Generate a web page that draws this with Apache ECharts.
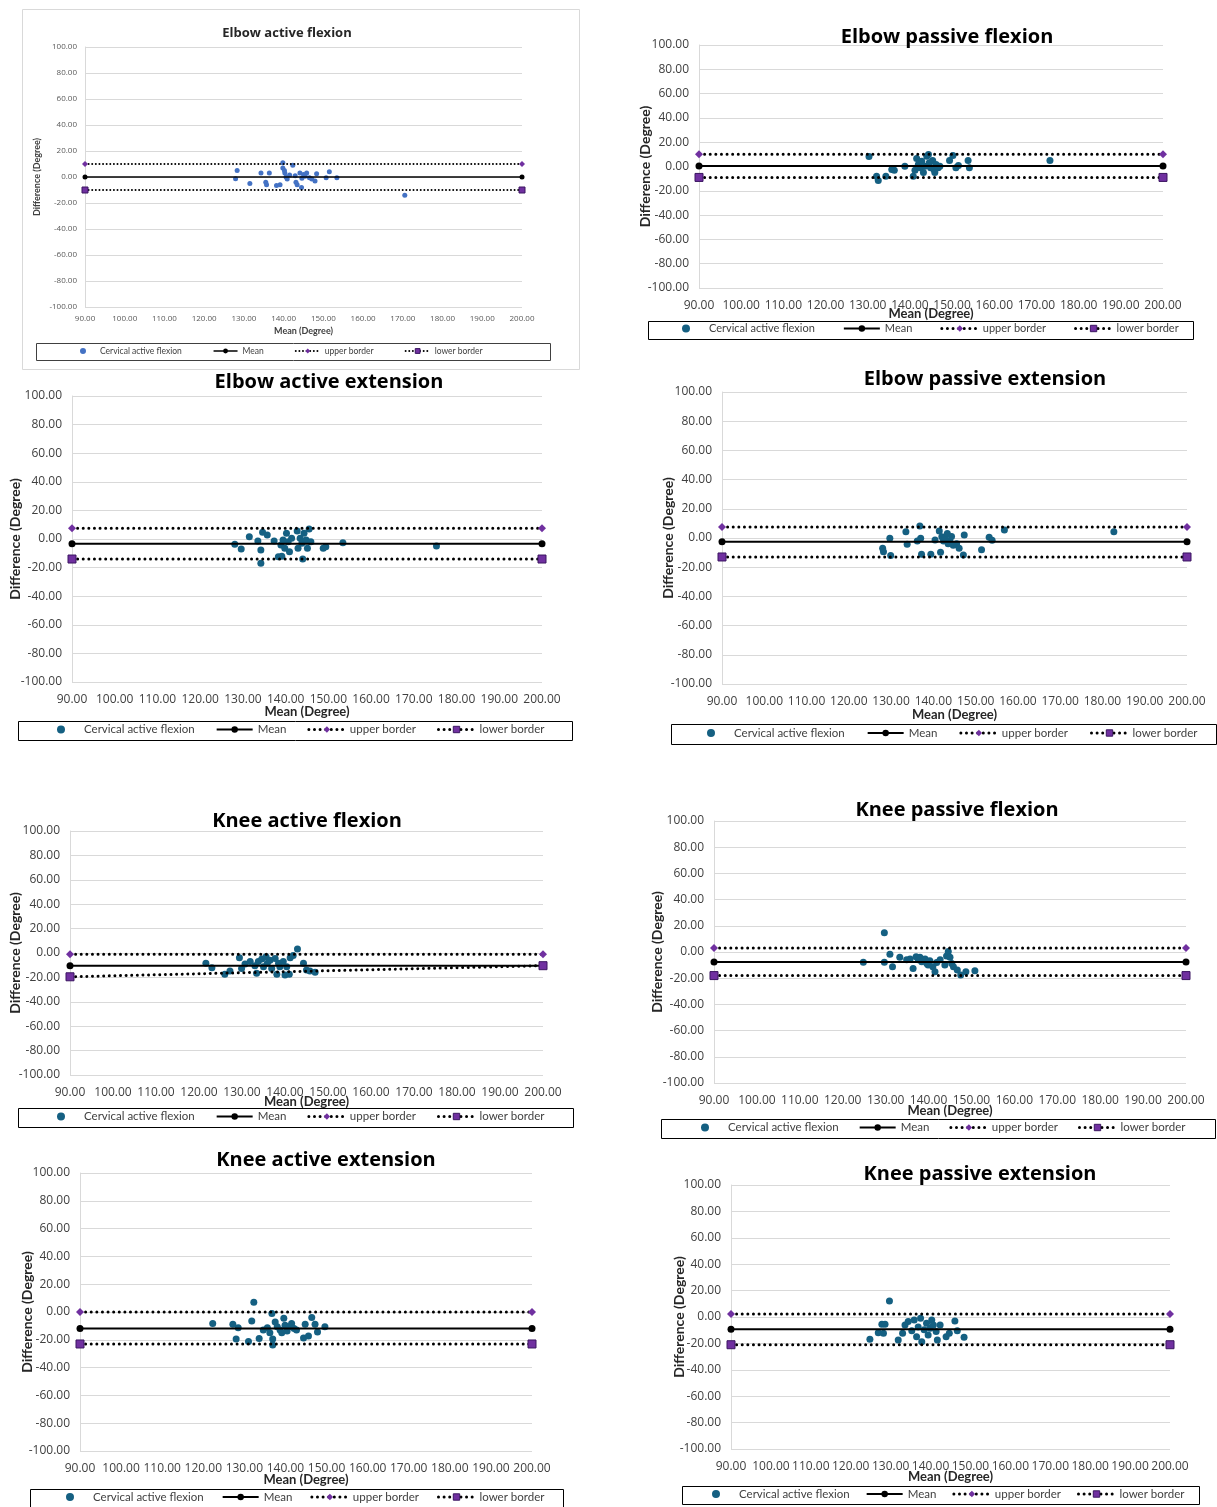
<!DOCTYPE html>
<html><head><meta charset="utf-8">
<script src="https://cdn.jsdelivr.net/npm/echarts@6/dist/echarts.min.js"></script>
<style>html,body{margin:0;padding:0;background:#fff}#c{width:1217px;height:1507px}</style>
</head><body><div id="c"></div>
<script>
// ---------- data ----------
const xRange = [90, 200], xStep = 10;
const yRange = [-100, 100], yStep = 20;
const seriesNames = ['Cervical active flexion', 'Mean', 'upper border', 'lower border'];
const xAxisTitle = 'Mean (Degree)';
const yAxisTitle = 'Difference (Degree)';
const panelTitles = ['Elbow active flexion', 'Elbow passive flexion', 'Elbow active extension', 'Elbow passive extension',
  'Knee active flexion', 'Knee passive flexion', 'Knee active extension', 'Knee passive extension'];

const eafPoints = [[128.3,5],[127.9,-1.4],[131.5,-5],[134.3,3],[135.5,-4],[135.7,-6],[136.4,3],[138.2,-6.5],[139.1,-6],[139.8,11],[139.8,7],[140.3,3],[140.6,0],[140.9,-1.5],[142.3,9],[142.9,1],[143.1,-4],[143.4,-6],[144.1,3],[144.5,-8],[145,2],[145.4,0.6],[145.8,3],[146.5,-0.6],[147.1,-1.5],[147.9,-3],[148.3,2.5],[150.7,-0.6],[151.5,4],[153.4,-0.5],[170.5,-14],[140.2,5],[141.5,1.5],[144.6,-1]];
const epfPoints = [[130.3,8.2],[132.1,-8],[132.5,-11.5],[134.3,-8],[135.7,-2.5],[136.3,-3],[138.8,0.3],[140.8,-8],[141.2,-3],[141.6,6.6],[142,1.6],[142.4,-1],[142.8,4.4],[143.2,-5],[143.6,0.3],[144,8.5],[144.4,9.9],[144.6,3],[144.9,-1],[145.4,5],[145.7,-2.5],[146.2,1.6],[146.7,-1],[147.1,0.3],[145.9,-5],[149.4,5],[150.2,9],[150.9,-1],[151.5,0.8],[153.8,5],[154.1,-1],[173.2,5]];
const eaePoints = [[128.1,-3.7],[129.6,-7],[131.5,1.6],[133.5,-1.4],[134.2,-7.7],[134.2,-17],[134.6,4.7],[135.7,2.8],[137.3,-1.4],[138.3,-12.4],[138.9,-4.2],[139.1,-12],[139.4,-0.7],[139.8,-6.5],[140.2,4],[140.6,-2],[140.9,-8.9],[141.4,0.5],[142.7,5.6],[142.9,-6.5],[143.4,0.5],[143.8,-3],[144,-14],[144.3,4],[144.8,-0.7],[145.1,-6.5],[145.5,7],[145.9,-2],[148.8,-6.5],[149.4,-5.5],[153.4,-2.6],[175.3,-4.9]];
const epePoints = [[128,-7],[128.2,-9.4],[129.7,-0.2],[129.9,-12],[133.5,4.3],[133.8,-4.3],[136.2,-2],[136.8,8.2],[137,-0.2],[137.2,-11.2],[139.4,-11.2],[140.4,-1.4],[141.4,4.8],[141.7,-9.8],[142,0.9],[142.4,-2],[142.8,0],[143.3,3],[143.5,-4],[143.9,-2],[144.3,1],[144.7,-5],[145.5,-4],[146.1,-7],[147.1,-11.6],[147.3,2],[151.4,-8],[153.2,0.5],[153.9,-1.5],[156.8,5.5],[182.7,4.3]];
const kafPoints = [[121.6,-8.5],[123,-12],[126,-17.5],[127.2,-14.8],[129.4,-3.8],[129.9,-12.7],[130.7,-9],[131.9,-7],[133,-10.4],[133.4,-16.7],[133.8,-7],[134.6,-5],[135,-11.3],[135.6,-3],[135.9,-8.5],[136.5,-6],[136.9,-12.7],[137.7,-4.6],[138.1,-17.5],[138.5,-8.5],[138.8,-11.3],[139.6,-7],[140,-18],[140.4,-11.3],[141,-17.5],[141.2,-3.8],[141.9,-2],[142.9,3.3],[144.3,-8.5],[145,-14],[145.8,-14.8],[147,-15.8]];
const kpfPoints = [[124.8,-7.9],[129.7,14.7],[129.7,-7.9],[131,-1.8],[131.6,-11.2],[133.3,-4.1],[134.9,-6],[135.7,-5.4],[136.4,-12.5],[137.1,-3.6],[137.6,-6],[138,-4.1],[138.4,-7.4],[139.2,-5.4],[139.6,-8.7],[139.9,-10],[140.3,-6.6],[141,-11.2],[141.5,-15],[141.9,-8],[142.7,-6],[143.8,-10],[144.2,-3],[144.6,0.3],[145,-4.1],[145.4,-8.7],[145.8,-11.2],[146.7,-13.7],[147.5,-17.6],[148.7,-15],[150.8,-14.3]];
const kaePoints = [[122.3,-8.2],[127.2,-8.9],[128,-19.4],[128.5,-11.3],[131,-21.3],[131.8,-6.5],[132.3,7],[133.6,-19],[134.6,-13],[135.6,-11.3],[136.2,-15],[136.7,-1],[136.9,-19.4],[136.9,-23.7],[137.5,-7.2],[138,-10.7],[138.7,-13],[139.1,-15],[139.6,-4.5],[139.9,-9.6],[140.4,-13.7],[140.9,-10.7],[141.5,-8.2],[142.1,-11.8],[142.7,-13],[144.4,-18.7],[144.8,-8.9],[145.6,-17.3],[146.4,-4],[147.2,-8.9],[147.8,-14.4],[149.6,-10.7]];
const kpePoints = [[124.8,-16.9],[126.9,-11.9],[127.8,-5.5],[128.6,-5.5],[128.2,-12.4],[129.7,12.1],[131.9,-17.4],[133,-12.4],[133.6,-6],[134.4,-3.5],[135.3,-10.4],[135.9,-2.3],[136.5,-15],[136.9,-7.5],[137.5,-1],[137.8,-18.7],[138.4,-9.6],[139,-4.8],[139.4,-13.6],[139.9,-8.6],[140.3,-2.3],[140.7,-6],[141.4,-11],[141.7,-17.4],[142.4,-6],[143.9,-15],[144.7,-12.4],[146.1,-3],[146.7,-10.4],[148.4,-15.4]];

// limit lines: [value at x=90, value at x=200]
const eafMean = [0, 0],       eafUpper = [10, 10],   eafLower = [-10, -10];
const epfMean = [0.5, 0.5],   epfUpper = [10, 10],   epfLower = [-9, -9];
const eaeMean = [-3.3, -3.3], eaeUpper = [7.5, 7.5], eaeLower = [-14, -14];
const epeMean = [-2.5, -2.5], epeUpper = [7.5, 7.5], epeLower = [-13, -13];
const kafMean = [-10.4, -10.4], kafUpper = [-1, -1], kafLower = [-19.5, -10.4];
const kpfMean = [-7.6, -7.6], kpfUpper = [3, 3],     kpfLower = [-18, -18];
const kaeMean = [-11.8, -11.8], kaeUpper = [0, 0],   kaeLower = [-23, -23];
const kpeMean = [-9.3, -9.3], kpeUpper = [2.3, 2.3], kpeLower = [-21, -21];

const panelPoints = [eafPoints, epfPoints, eaePoints, epePoints, kafPoints, kpfPoints, kaePoints, kpePoints];
const panelMeans = [eafMean, epfMean, eaeMean, epeMean, kafMean, kpfMean, kaeMean, kpeMean];
const panelUppers = [eafUpper, epfUpper, eaeUpper, epeUpper, kafUpper, kpfUpper, kaeUpper, kpeUpper];
const panelLowers = [eafLower, epfLower, eaeLower, epeLower, kafLower, kpfLower, kaeLower, kpeLower];

// ---------- layout (pixels) ----------
const layout = [
  {l:85,  t:47,   r:522,  b:307,  tx:287, ty:31,   xn:331,  yn:37,  box:[36,343,550,360],   legL:71,  lfs:8.5,  gap:31, small:true},
  {l:699, t:45,   r:1163, b:288,  tx:947, ty:36,   xn:314,  yn:645, box:[648,321,1193,339], legL:668, lfs:11,   gap:28},
  {l:72,  t:396,  r:542,  b:682,  tx:329, ty:381,  xn:712,  yn:15,  box:[18,721,572,740],   legL:43,  lfs:11.5, gap:21},
  {l:722, t:392,  r:1187, b:684,  tx:985, ty:378,  xn:715,  yn:668, box:[671,724,1216,744], legL:693, lfs:11.5, gap:22},
  {l:70,  t:831,  r:543,  b:1075, tx:307, ty:820,  xn:1102, yn:15,  box:[18,1108,573,1127], legL:43,  lfs:11.5, gap:21},
  {l:714, t:821,  r:1186, b:1083, tx:957, ty:809,  xn:1111, yn:657, box:[661,1119,1215,1138],legL:687, lfs:11.5, gap:20},
  {l:80,  t:1173, r:532,  b:1451, tx:326, ty:1159, xn:1480, yn:27,  box:[30,1489,563,1507], legL:52,  lfs:11.5, gap:18},
  {l:731, t:1185, r:1170, b:1449, tx:980, ty:1173, xn:1477, yn:679, box:[682,1486,1199,1504],legL:698, lfs:11.5, gap:16}
];

const fmt = v => v.toFixed(2);
const purple = '#7030A0';
const grids = [], xAxes = [], yAxes = [], series = [], titles = [], legends = [], graphics = [];

layout.forEach((p, i) => {
  const s = !!p.small;
  const fs = s ? 8 : 12, tfs = s ? 13 : 20, nfs = s ? 9 : 13, ynfs = s ? 9 : 14;
  const dotColor = s ? '#4472C4' : '#156082';
  const lineW = s ? 1.5 : 2;
  const dotW = s ? 2 : 3;
  const dash = s ? [0.01, 3.6] : [0.01, 5.6];
  const iconW = s ? 24 : 36, iconH = s ? 6 : 8;
  const r = iconH / 2;
  // centered dot icon inside a wide box (zero-area baseline segment sets the width)
  const dotIcon = 'path://M0,' + r + 'L' + iconW + ',' + r + 'Z M' + (iconW / 2 - r) + ',' + r +
    'A' + r + ',' + r + ' 0 1,0 ' + (iconW / 2 + r) + ',' + r + 'A' + r + ',' + r + ' 0 1,0 ' + (iconW / 2 - r) + ',' + r + 'Z';
  grids.push({left: p.l, top: p.t, width: p.r - p.l, height: p.b - p.t, containLabel: false});
  xAxes.push({
    gridIndex: i, type: 'value', min: xRange[0], max: xRange[1], interval: xStep,
    axisLine: {show: false}, axisTick: {show: false}, splitLine: {show: false},
    axisLabel: {formatter: fmt, fontSize: fs, margin: s ? 8 : 12, color: s ? '#595959' : '#404040', fontFamily: 'Open Sans'},
    name: xAxisTitle, nameLocation: 'middle', nameGap: p.xn - p.b - nfs / 2, nameMoveOverlap: false,
    nameTextStyle: {fontWeight: 'bold', fontSize: nfs, color: s ? '#404040' : '#262626', fontFamily: 'Lato'}
  });
  yAxes.push({
    gridIndex: i, type: 'value', min: yRange[0], max: yRange[1], interval: yStep,
    axisLine: {show: true, lineStyle: {color: '#d9d9d9'}}, axisTick: {show: false},
    splitLine: {show: true, lineStyle: {color: '#d9d9d9'}},
    axisLabel: {formatter: fmt, fontSize: fs, margin: s ? 8 : 10, color: s ? '#595959' : '#404040', fontFamily: 'Open Sans'},
    name: yAxisTitle, nameLocation: 'middle', nameGap: p.l - p.yn - ynfs / 2, nameMoveOverlap: false,
    nameTextStyle: {fontWeight: 'bold', fontSize: ynfs, color: s ? '#404040' : '#262626', fontFamily: 'Lato'}
  });
  titles.push({
    text: panelTitles[i], left: p.tx, top: p.ty - tfs * 0.65 + 4, textAlign: 'center', padding: 0,
    textStyle: {fontSize: tfs, fontWeight: 'bold', color: s ? '#262626' : '#000', fontFamily: 'Open Sans'}
  });
  series.push({
    type: 'scatter', name: seriesNames[0], xAxisIndex: i, yAxisIndex: i,
    data: panelPoints[i], symbolSize: s ? 5 : 7, itemStyle: {color: dotColor, opacity: 1}
  });
  const ends = arr => [[xRange[0], arr[0]], [xRange[1], arr[1]]];
  series.push({
    type: 'line', name: seriesNames[1], xAxisIndex: i, yAxisIndex: i, data: ends(panelMeans[i]),
    symbol: 'circle', symbolSize: s ? 5 : 7, showSymbol: true,
    lineStyle: {color: '#000', width: lineW}, itemStyle: {color: '#000'}
  });
  series.push({
    type: 'line', name: seriesNames[2], xAxisIndex: i, yAxisIndex: i, data: ends(panelUppers[i]),
    symbol: 'diamond', symbolSize: s ? 6 : 8, showSymbol: true,
    lineStyle: {color: '#000', width: dotW, type: dash, cap: 'round'}, itemStyle: {color: purple}
  });
  series.push({
    type: 'line', name: seriesNames[3], xAxisIndex: i, yAxisIndex: i, data: ends(panelLowers[i]),
    symbol: 'rect', symbolSize: s ? 6 : 8, showSymbol: true,
    lineStyle: {color: '#000', width: dotW, type: dash, cap: 'round'},
    itemStyle: {color: purple, borderColor: '#3a1560', borderWidth: 1}
  });
  const bx = p.box;
  const lh = s ? 10 : 14;
  legends.push({
    left: p.legL, top: (bx[1] + bx[3]) / 2 - lh / 2, padding: 0,
    itemWidth: iconW, itemHeight: iconH, itemGap: p.gap, selectedMode: false,
    textStyle: {fontSize: p.lfs, color: '#404040', fontFamily: 'Lato'},
    data: [
      {name: seriesNames[0], icon: dotIcon, itemStyle: {color: dotColor}},
      {name: seriesNames[1], itemStyle: {color: '#000'}, lineStyle: {color: '#000', width: lineW}},
      {name: seriesNames[2], itemStyle: {color: purple}, lineStyle: {color: '#000', width: dotW, type: dash, cap: 'round'}},
      {name: seriesNames[3], itemStyle: {color: purple, borderColor: '#3a1560', borderWidth: 1}, lineStyle: {color: '#000', width: dotW, type: dash, cap: 'round'}}
    ]
  });
  graphics.push({
    type: 'rect', shape: {x: bx[0] + 0.5, y: bx[1] + 0.5, width: bx[2] - bx[0], height: bx[3] - bx[1]},
    style: {fill: 'none', stroke: s ? '#404040' : '#000', lineWidth: 1}, silent: true, z: -1
  });
});
graphics.push({
  type: 'rect', shape: {x: 22.5, y: 9.5, width: 557, height: 360},
  style: {fill: 'none', stroke: '#d9d9d9', lineWidth: 1}, silent: true, z: -1
});

const chart = echarts.init(document.getElementById('c'), null, {renderer: 'canvas'});
chart.setOption({
  backgroundColor: '#fff',
  animation: false,
  title: titles,
  grid: grids,
  xAxis: xAxes,
  yAxis: yAxes,
  legend: legends,
  series: series,
  graphic: graphics
});
</script>
</body></html>
